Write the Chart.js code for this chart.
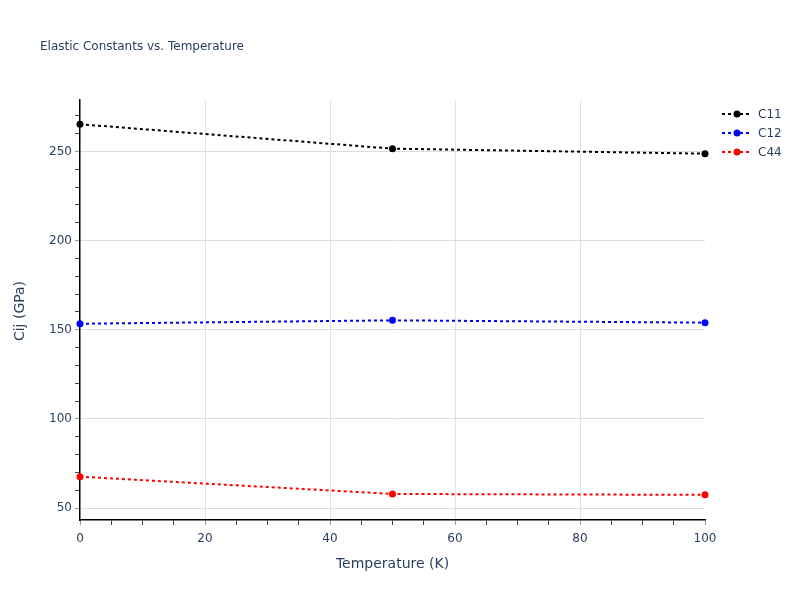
<!DOCTYPE html>
<html>
<head>
<meta charset="utf-8">
<script src="https://cdn.jsdelivr.net/npm/chart.js@4"></script>
<style>
  html, body { margin: 0; padding: 0; background: #fff; }
  #wrap { width: 800px; height: 600px; position: relative; }
</style>
</head>
<body>
<div id="wrap"><canvas id="chart" width="800" height="600"></canvas></div>
<script>
// Data
const temperatures = [0, 50, 100];
const c11 = [265.3, 251.6, 248.8];
const c12 = [153.4, 155.3, 154.0];
const c44 = [67.6, 57.9, 57.4];
const seriesNames = ['C11', 'C12', 'C44'];
const seriesColors = ['#000000', '#0000ff', '#ff0000'];
const xTicks = [0, 5, 10, 15, 20, 25, 30, 35, 40, 45, 50, 55, 60, 65, 70, 75, 80, 85, 90, 95, 100];
const yTicks = [50, 60, 70, 80, 90, 100, 110, 120, 130, 140, 150, 160, 170, 180, 190, 200, 210, 220, 230, 240, 250, 260, 270];

const FONT = '"DejaVu Sans", Verdana, sans-serif';
const TEXT = '#2a3f5f';

function toPoints(values) {
  return temperatures.map((t, i) => ({ x: t, y: values[i] }));
}

// Title, axis titles and legend drawn on the canvas
const annotations = {
  id: 'annotations',
  afterDraw(chart) {
    const ctx = chart.ctx;
    const area = chart.chartArea;
    ctx.save();
    ctx.fillStyle = TEXT;
    ctx.textBaseline = 'middle';

    ctx.font = '12px ' + FONT;
    ctx.textAlign = 'left';
    ctx.fillText('Elastic Constants vs. Temperature', 40, 47);

    ctx.font = '14px ' + FONT;
    ctx.textAlign = 'center';
    ctx.fillText('Temperature (K)', (area.left + area.right) / 2, 564);

    ctx.translate(20, (area.top + area.bottom) / 2 + 1);
    ctx.rotate(-Math.PI / 2);
    ctx.fillText('Cij (GPa)', 0, 0);
    ctx.restore();

    // legend
    ctx.save();
    chart.data.datasets.forEach((ds, i) => {
      const y = 114 + i * 19;
      ctx.strokeStyle = ds.borderColor;
      ctx.lineWidth = 2;
      ctx.setLineDash([3, 3]);
      ctx.beginPath();
      ctx.moveTo(722, y);
      ctx.lineTo(752, y);
      ctx.stroke();
      ctx.setLineDash([]);
      ctx.fillStyle = ds.borderColor;
      ctx.beginPath();
      ctx.arc(737, y, 3.5, 0, Math.PI * 2);
      ctx.fill();
      ctx.fillStyle = TEXT;
      ctx.font = '12px ' + FONT;
      ctx.textAlign = 'left';
      ctx.textBaseline = 'middle';
      ctx.fillText(ds.label, 758, y + 1);
    });
    ctx.restore();
  }
};

const datasets = [c11, c12, c44].map((vals, i) => ({
  label: seriesNames[i],
  data: toPoints(vals),
  borderColor: seriesColors[i],
  backgroundColor: seriesColors[i],
  pointBackgroundColor: seriesColors[i],
  pointBorderColor: seriesColors[i],
  pointRadius: 3.5,
  pointBorderWidth: 0,
  borderWidth: 2,
  borderDash: [3, 3],
  tension: 0,
  clip: false
}));

new Chart(document.getElementById('chart'), {
  type: 'line',
  data: { datasets },
  options: {
    responsive: false,
    animation: false,
    devicePixelRatio: 1,
    layout: { padding: { top: 100, right: 95, left: 0, bottom: 0 } },
    plugins: {
      legend: { display: false },
      tooltip: { enabled: false },
      title: { display: false }
    },
    scales: {
      x: {
        type: 'linear',
        min: 0,
        max: 100,
        afterFit: (scale) => { scale.height = 80; },
        afterBuildTicks: (scale) => { scale.ticks = xTicks.map(v => ({ value: v })); },
        border: { color: '#000', width: 1.5 },
        grid: {
          color: (c) => (c.tick && c.tick.value % 20 === 0 && c.tick.value !== 0 && c.tick.value !== 100) ? '#e2e2e2' : 'rgba(0,0,0,0)',
          tickColor: (c) => (c.tick && c.tick.value % 20 === 0) ? '#999' : '#444',
          tickLength: 5,
          drawTicks: true
        },
        ticks: {
          autoSkip: false,
          maxRotation: 0,
          padding: 7,
          color: TEXT,
          font: { family: FONT, size: 12 },
          callback: (v) => (v % 20 === 0 ? String(v) : '')
        }
      },
      y: {
        type: 'linear',
        min: 43.3,
        max: 278.9,
        afterFit: (scale) => { scale.width = 80; },
        afterBuildTicks: (scale) => { scale.ticks = yTicks.map(v => ({ value: v })); },
        border: { color: '#000', width: 1.5 },
        grid: {
          color: (c) => (c.tick && c.tick.value % 50 === 0) ? '#dcdcdc' : 'rgba(0,0,0,0)',
          tickColor: (c) => (c.tick && c.tick.value % 50 === 0) ? '#999' : '#444',
          tickLength: 5,
          drawTicks: true
        },
        ticks: {
          autoSkip: false,
          padding: 3,
          color: TEXT,
          font: { family: FONT, size: 12 },
          callback: (v) => (v % 50 === 0 ? String(v) : '')
        }
      }
    }
  },
  plugins: [annotations]
});
</script>
</body>
</html>
